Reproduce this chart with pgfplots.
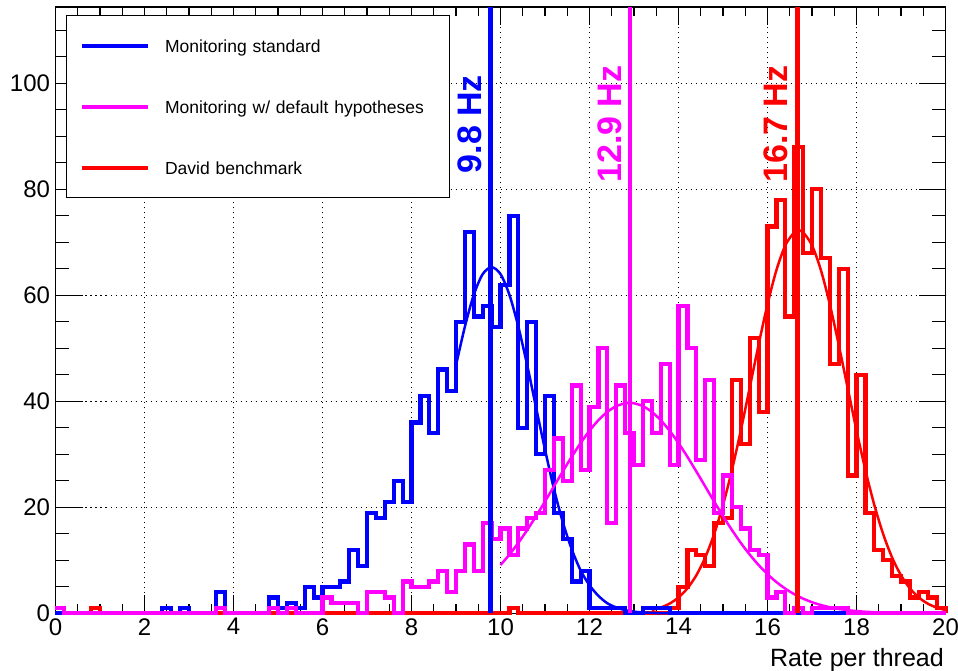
\documentclass[border=0pt]{standalone}
\usepackage{fontspec}
\setmainfont{Liberation Sans}
\usepackage{pgfplots}
\pgfplotsset{compat=1.18}
\definecolor{rblue}{RGB}{0,0,255}
\definecolor{rmag}{RGB}{255,0,255}
\definecolor{rred}{RGB}{255,0,0}
\begin{document}
\begin{tikzpicture}
\pgfplotsset{
  common/.style={
    at={(0pt,0pt)}, anchor=south west,
    scale only axis, width=890pt, height=606.3pt,
    xmin=0, xmax=20, ymin=0, ymax=114.4,
    axis line style={line width=1.3pt, black},
    tick align=inside, tick pos=both,
    every tick/.style={black, line width=1.1pt},
  }
}
% y ticks (longer, ROOT style)
\begin{axis}[common,
  xtick=\empty,
  ytick={0,20,...,100}, yticklabels={,,,,,},
  minor ytick={5,10,...,110},
  major tick length=27pt, minor tick length=13.5pt,
]
\end{axis}
\begin{axis}[common,
  xtick={0,2,...,20}, minor xtick={0.5,1,...,19.5},
  ytick={0,20,...,100},
  ytick style={draw=none},
  major tick length=18pt, minor tick length=9pt,
  grid=major,
  major grid style={black, line width=1.1pt, dash pattern=on 1.1pt off 3.9pt},
  ticklabel style={font=\fontsize{24}{24}\selectfont},
  yticklabel style={xshift=-2pt},
  xticklabel style={yshift=-1.5pt},
  /pgf/number format/assume math mode=true,
  clip=false,
  xlabel={Rate per thread},
  xlabel style={at={(rel axis cs:1,0)}, anchor=base east, yshift=-52.7pt, xshift=-1.5pt, inner sep=0pt, font=\fontsize{25}{25}\selectfont},
  legend cell align=left,
  legend style={
    at={(rel axis cs:0.0118,0.9868)}, anchor=north west,
    draw=black, line width=1.2pt, fill=white,
    inner xsep=13.5pt, inner ysep=23.5pt,
    row sep=48pt,
    font=\fontsize{17.5}{21}\selectfont,
    nodes={inner sep=0pt, text height=13pt, text depth=0pt, text width=271pt, align=left},
    /tikz/every odd column/.append style={column sep=15pt},
  },
  legend image code/.code={\draw[line width=4pt] (0pt,0pt) -- (66pt,0pt);},
]
\addlegendimage{rblue, line width=4pt}
\addlegendentry{Monitoring standard}
\addlegendimage{rmag, line width=4pt}
\addlegendentry{Monitoring w/ default hypotheses}
\addlegendimage{rred, line width=4pt}
\addlegendentry{David benchmark}

% red histogram (David benchmark)
\addplot[const plot, rred, line width=4.2pt, forget plot] coordinates {
(0,0) (0.8,1) (1.0,0) (10.2,1) (10.4,0) (13.8,1) (14.0,5) (14.2,12) (14.4,11)
(14.6,9) (14.8,17) (15.0,18) (15.2,44) (15.4,32) (15.6,52) (15.8,38) (16.0,73)
(16.2,78) (16.4,56) (16.6,88) (16.8,68) (17.0,80) (17.2,67) (17.4,47) (17.6,65)
(17.8,26) (18.0,45) (18.2,19) (18.4,12) (18.6,10) (18.8,7) (19.0,6) (19.2,3)
(19.4,4) (19.6,3) (19.8,1) (20,0)};
\addplot[smooth, rred, line width=2.5pt, forget plot] coordinates {
(13.4,0.62) (13.6,1.09) (13.8,1.83) (14.0,2.99) (14.2,4.71) (14.4,7.16) (14.6,10.52)
(14.8,14.93) (15.0,20.44) (15.2,27.02) (15.4,34.51) (15.6,42.57) (15.8,50.69)
(16.0,58.30) (16.2,64.74) (16.4,69.42) (16.6,71.88) (16.7,72.2) (16.8,71.88)
(17.0,69.42) (17.2,64.74) (17.4,58.30) (17.6,50.69) (17.8,42.57) (18.0,34.51)
(18.2,27.02) (18.4,20.44) (18.6,14.93) (18.8,10.52) (19.0,7.16) (19.2,4.71)
(19.4,2.99) (19.6,1.83) (19.8,1.09) (20.0,0.62)};

% blue histogram (Monitoring standard)
\addplot[const plot, rblue, line width=4.2pt, forget plot] coordinates {
(0,0) (2.4,1) (2.6,0) (2.8,1) (3.0,0) (3.6,4) (3.8,0) (4.8,3) (5.0,1) (5.2,2)
(5.4,1) (5.6,5) (5.8,3) (6.0,5) (6.4,6) (6.6,12) (6.8,9) (7.0,19) (7.2,18)
(7.4,21) (7.6,25) (7.8,21) (8.0,36) (8.2,41) (8.4,34) (8.6,46) (8.8,42) (9.0,55)
(9.2,72) (9.4,56) (9.6,58) (9.8,54) (10.0,62) (10.2,75) (10.4,35) (10.6,55)
(10.8,30) (11.0,41) (11.2,19) (11.4,14) (11.6,6) (11.8,8) (12.0,1) (12.8,0)
(13.2,1) (13.8,0) (20,0)};
\addplot[smooth, rblue, line width=2.5pt, forget plot] coordinates {
(9.0,46.8) (9.2,54.1) (9.4,60.1) (9.6,64.0) (9.8,65.3) (10.0,64.0) (10.2,60.1)
(10.4,54.1) (10.6,46.8) (10.8,38.8) (11.0,30.9) (11.2,23.5) (11.4,17.2) (11.6,12.1)
(11.8,8.1) (12.0,5.3) (12.2,3.3) (12.4,1.9) (12.6,1.1) (12.8,0.6) (13.0,0.3)
(13.2,0.16) (13.4,0.08) (13.6,0.03) (13.8,0.01) (14.0,0)};

% magenta histogram (Monitoring w/ default hypotheses)
\addplot[const plot, rmag, line width=4.2pt, forget plot] coordinates {
(0,1) (0.2,0) (3.6,1) (3.8,0) (4.8,1) (5.0,0) (5.2,1) (5.4,0) (6.0,3) (6.2,2)
(6.8,0) (7.0,4) (7.4,3) (7.6,0) (7.8,6) (8.0,5) (8.4,6) (8.6,8) (8.8,4) (9.0,8)
(9.2,13) (9.4,8) (9.6,17) (9.8,14) (10.0,16) (10.2,11) (10.4,16) (10.6,18)
(10.8,19) (11.0,27) (11.2,33) (11.4,25) (11.6,43) (11.8,27) (12.0,39) (12.2,50)
(12.4,17) (12.6,43) (12.8,34) (13.0,28) (13.2,40) (13.4,34) (13.6,47) (13.8,28)
(14.0,58) (14.2,50) (14.4,29) (14.6,44) (14.8,19) (15.0,26) (15.2,20) (15.4,16)
(15.6,12) (15.8,11) (16.0,3) (16.2,4) (16.4,0) (16.6,1) (16.8,0) (17.0,1)
(17.8,0) (20,0)};
\addplot[smooth, rmag, line width=2.5pt, forget plot] coordinates {
(10.0,9.11) (10.2,11.08) (10.4,13.29) (10.6,15.72) (10.8,18.35) (11.0,21.10)
(11.2,23.94) (11.4,26.77) (11.6,29.53) (11.8,32.12) (12.0,34.45) (12.2,36.44)
(12.4,38.00) (12.6,39.08) (12.8,39.63) (12.9,39.7) (13.0,39.63) (13.2,39.08)
(13.4,38.00) (13.6,36.44) (13.8,34.45) (14.0,32.12) (14.2,29.53) (14.4,26.77)
(14.6,23.94) (14.8,21.10) (15.0,18.35) (15.2,15.72) (15.4,13.29) (15.6,11.08)
(15.8,9.11) (16.0,7.38) (16.2,5.90) (16.4,4.65) (16.6,3.61) (16.8,2.77)
(17.0,2.09) (17.2,1.56) (17.4,1.15) (17.6,0.83) (17.8,0.59) (18.0,0.42)
(18.2,0.29) (18.4,0.20) (18.6,0.13) (18.8,0.09) (19.0,0.06) (19.2,0.04)
(19.4,0.02) (19.6,0.01) (19.8,0.01) (20.0,0)};

% mean lines
\addplot[rblue, line width=4.5pt, forget plot] coordinates {(9.77,0) (9.77,114.4)};
\addplot[rmag, line width=4.5pt, forget plot] coordinates {(12.91,0) (12.91,114.4)};
\addplot[rred, line width=4.5pt, forget plot] coordinates {(16.67,0) (16.67,114.4)};

\node[rblue, rotate=90, anchor=south, inner sep=0pt, font=\fontsize{34}{34}\selectfont\bfseries] at (axis cs:9.59,92.3) {9.8 Hz};
\node[rmag, rotate=90, anchor=south, inner sep=0pt, font=\fontsize{34}{34}\selectfont\bfseries] at (axis cs:12.72,92.3) {12.9 Hz};
\node[rred, rotate=90, anchor=south, inner sep=0pt, font=\fontsize{34}{34}\selectfont\bfseries] at (axis cs:16.47,92.3) {16.7 Hz};
\end{axis}
\pgfresetboundingbox
\path[use as bounding box] (-55.5pt,-56.7pt) rectangle (902.5pt,613.3pt);
\end{tikzpicture}
\end{document}
